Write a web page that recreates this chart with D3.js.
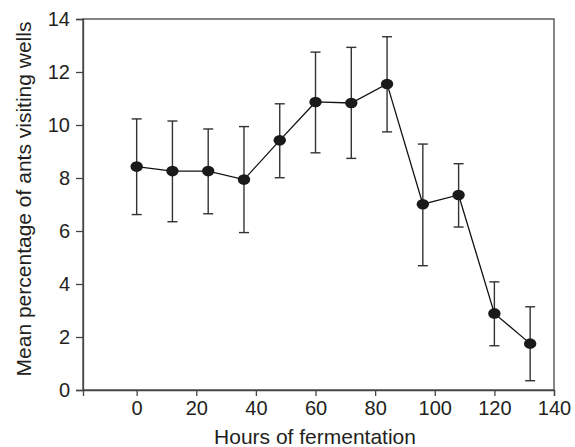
<!DOCTYPE html>
<html>
<head>
<meta charset="utf-8">
<script src="https://cdn.jsdelivr.net/npm/d3@7"></script>
<style>
  html, body { margin: 0; padding: 0; background: #fff; }
  svg { display: block; }
  text { font-family: "Liberation Sans", Arial, Helvetica, sans-serif; fill: #231f20; }
</style>
</head>
<body>
<svg id="chart" width="575" height="447"></svg>
<script>
// Fermentation time (h) and mean percentage of ants visiting wells, with error bounds
const hours = [0, 12, 24, 36, 48, 60, 72, 84, 96, 108, 120, 132];
const meanPct = [8.43, 8.26, 8.26, 7.94, 9.42, 10.87, 10.83, 11.55, 7.01, 7.36, 2.89, 1.75];
const upper = [10.23, 10.15, 9.85, 9.94, 10.8, 12.75, 12.93, 13.33, 9.28, 8.54, 4.08, 3.14];
const lower = [6.62, 6.35, 6.65, 5.94, 8.01, 8.95, 8.74, 9.74, 4.69, 6.15, 1.67, 0.35];
const xTicks = [0, 20, 40, 60, 80, 100, 120, 140];
const yTicks = [0, 2, 4, 6, 8, 10, 12, 14];

const points = hours.map((h, i) => ({ h, m: meanPct[i], hi: upper[i], lo: lower[i] }));

const svg = d3.select("#chart");
const plotLeft = 83, plotRight = 554, plotTop = 19, plotBottom = 390;

const x = d3.scaleLinear().domain([-18, 140]).range([plotLeft, plotRight]);
const y = d3.scaleLinear().domain([0, 14]).range([plotBottom, plotTop]);

const axisColor = "#444";
const tickFont = "20px";
const titleFont = "21px";

// frame around plot area
svg.append("rect")
  .attr("x", plotLeft).attr("y", plotTop)
  .attr("width", plotRight - plotLeft).attr("height", plotBottom - plotTop)
  .attr("fill", "none").attr("stroke", axisColor).attr("stroke-width", 1.3);

// x axis
const gx = svg.append("g")
  .attr("transform", `translate(0,${plotBottom})`)
  .call(d3.axisBottom(x).tickValues(xTicks).tickSize(6).tickPadding(5).tickFormat(d3.format("d")));
gx.select(".domain").attr("stroke", axisColor).attr("stroke-width", 1.3);
gx.selectAll(".tick line").attr("stroke", axisColor).attr("stroke-width", 1.3);
gx.selectAll(".tick text").attr("font-size", tickFont).attr("font-family", null).attr("fill", "#231f20");

// y axis
const gy = svg.append("g")
  .attr("transform", `translate(${plotLeft},0)`)
  .call(d3.axisLeft(y).tickValues(yTicks).tickSize(7).tickPadding(6).tickFormat(d3.format("d")));
gy.select(".domain").attr("stroke", axisColor).attr("stroke-width", 1.3);
gy.selectAll(".tick line").attr("stroke", axisColor).attr("stroke-width", 1.3);
gy.selectAll(".tick text").attr("font-size", tickFont).attr("font-family", null).attr("fill", "#231f20");

// axis titles
svg.append("text")
  .attr("x", 315)
  .attr("y", 444)
  .attr("text-anchor", "middle")
  .attr("font-size", titleFont)
  .text("Hours of fermentation");

svg.append("text")
  .attr("transform", "translate(31,199) rotate(-90)")
  .attr("text-anchor", "middle")
  .attr("font-size", titleFont)
  .text("Mean percentage of ants visiting wells");

// error bars
const capHalf = 5;
const eb = svg.append("g").attr("stroke", "#333").attr("stroke-width", 1.4).attr("fill", "none");
eb.selectAll("line.v").data(points).join("line")
  .attr("class", "v")
  .attr("x1", d => x(d.h)).attr("x2", d => x(d.h))
  .attr("y1", d => y(d.hi)).attr("y2", d => y(d.lo));
eb.selectAll("line.top").data(points).join("line")
  .attr("class", "top")
  .attr("x1", d => x(d.h) - capHalf).attr("x2", d => x(d.h) + capHalf)
  .attr("y1", d => y(d.hi)).attr("y2", d => y(d.hi));
eb.selectAll("line.bot").data(points).join("line")
  .attr("class", "bot")
  .attr("x1", d => x(d.h) - capHalf).attr("x2", d => x(d.h) + capHalf)
  .attr("y1", d => y(d.lo)).attr("y2", d => y(d.lo));

// connecting line
svg.append("path")
  .datum(points)
  .attr("fill", "none")
  .attr("stroke", "#111")
  .attr("stroke-width", 1.3)
  .attr("d", d3.line().x(d => x(d.h)).y(d => y(d.m)));

// markers
svg.append("g").selectAll("ellipse").data(points).join("ellipse")
  .attr("cx", d => x(d.h)).attr("cy", d => y(d.m))
  .attr("rx", 6.2).attr("ry", 5.3)
  .attr("fill", "#1a1a1a");
</script>
</body>
</html>
